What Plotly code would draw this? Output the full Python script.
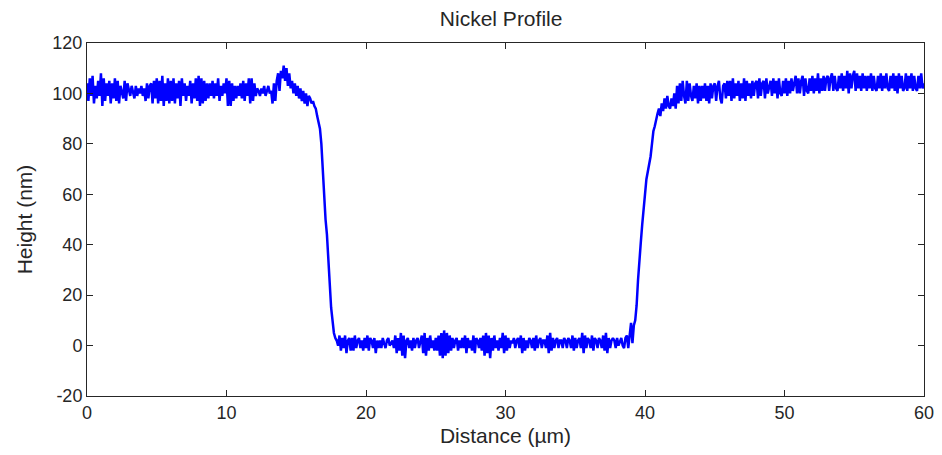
import plotly.graph_objects as go

x_start = 0.0
x_step = 0.1

heights = [
    # 0 - 15.9 left plateau with bump
    104, 97, 106, 99, 107, 96, 103, 98, 105, 99,
    108, 95, 106, 97, 104, 99, 105, 96, 104, 98,
    106, 97, 105, 96, 103, 100, 98, 105, 97, 104,
    102, 99, 103, 100, 98, 103, 99, 102, 100, 103,
    99, 102, 97, 104, 98, 103, 104, 96, 105, 98,
    106, 96, 105, 97, 107, 95, 104, 97, 106, 96,
    105, 97, 106, 96, 104, 98, 105, 95, 106, 99,
    104, 97, 103, 99, 105, 96, 104, 98, 106, 97,
    107, 95, 106, 96, 105, 97, 104, 98, 104, 99,
    105, 98, 104, 99, 106, 97, 103, 99, 104, 100,
    106, 95, 105, 95, 104, 97, 103, 98, 103, 99,
    104, 98, 105, 97, 104, 99, 106, 96, 106, 97,
    104, 99, 102, 101, 99, 102, 100, 103, 99, 101,
    103, 100, 101, 96, 104, 97, 105, 108, 101, 109,
    106, 111, 105, 110, 103, 108, 102, 105, 100, 104,
    99, 103, 98, 102, 97, 101, 96, 100, 95, 99,
    # 16 - 18.9 drop
    98, 96, 97, 95, 94, 91, 88, 86, 80, 70,
    56, 50, 44, 33, 24, 15, 10, 5, 3, 2,
    0, 4, -2, 3, -1, 4, -3, 2, 3, -2,
    # 19 - 38.9 bottom
    3, -2, 4, -1, 2, 3, -1, 2, -2, 3,
    -1, 4, -2, 3, 2, -1, 3, -3, 2, -1,
    2, -1, 3, 1, -1, 2, 3, 0, 1, 2,
    -1, 4, -3, 3, -2, 5, -4, 4, -5, 2,
    3, -1, 2, -2, 3, -1, 2, 3, -1, 2,
    4, -3, 5, -4, 3, -2, 4, -1, 2, -2,
    3, -2, 4, -4, 5, -5, 6, -4, 5, -3,
    4, -2, 3, -1, 2, 3, -2, 2, -1, 3,
    -1, 4, -3, 3, -1, 2, -2, 4, -3, 3,
    2, -1, 3, -2, 4, -4, 5, -3, 4, -5,
    3, -2, 4, -1, 2, -2, 3, -1, 5, -3,
    4, -2, 3, -1, 2, 1, 3, -1, 2, 3,
    -1, 4, -3, 3, -2, 2, -1, 3, 2, -1,
    3, -2, 4, -1, 2, 3, -1, 2, 2, -1,
    4, -3, 5, -2, 3, -1, 2, 3, -1, 2,
    2, -1, 3, 2, -1, 3, 2, -1, 4, -2,
    3, -1, 2, 3, -1, 5, -3, 4, -1, 3,
    2, -1, 4, -2, 3, 2, -1, 3, 2, -1,
    4, -2, 5, -3, 3, -1, 2, 3, 2, -1,
    3, 0, 2, 3, 0, -1, 3, 4, -1, 4,
    # 39 - 42.9 rise
    9, 1, 8, 10, 16, 26, 36, 41, 48, 56,
    60, 66, 69, 72, 75, 80, 85, 87, 90, 92,
    94, 91, 96, 93, 98, 94, 99, 95, 94, 98,
    95, 100, 94, 103, 96, 104, 97, 105, 99, 96,
    # 43 - 60 right plateau
    105, 97, 104, 99, 97, 103, 98, 104, 96, 103,
    97, 103, 98, 104, 97, 103, 96, 104, 98, 103,
    104, 97, 103, 105, 98, 96, 103, 104, 98, 105,
    99, 105, 97, 106, 98, 104, 99, 105, 97, 104,
    98, 106, 97, 105, 99, 104, 98, 105, 99, 104,
    105, 98, 106, 99, 104, 105, 98, 106, 100, 103,
    105, 99, 106, 100, 105, 98, 106, 100, 99, 105,
    100, 106, 99, 105, 100, 106, 101, 104, 107, 100,
    106, 100, 105, 107, 99, 106, 101, 100, 106, 101,
    107, 100, 106, 101, 108, 100, 106, 101, 107, 101,
    106, 107, 101, 106, 108, 101, 107, 102, 101, 107,
    102, 108, 101, 107, 102, 109, 100, 108, 102, 107,
    109, 101, 108, 102, 107, 101, 108, 102, 107, 101,
    107, 102, 108, 101, 107, 102, 101, 107, 102, 108,
    101, 107, 102, 108, 102, 101, 107, 102, 108, 101,
    107, 100, 108, 102, 107, 101, 102, 108, 101, 107,
    102, 108, 101, 107, 102, 101, 107, 102, 108, 102,
    104,
]

distance = [round(x_start + i * x_step, 2) for i in range(len(heights))]

x_ticks = [0, 10, 20, 30, 40, 50, 60]
y_ticks = [-20, 0, 20, 40, 60, 80, 100, 120]
y_tick_labels = ["-20", "0", "20", "40", "60", "80", "100", "120"]

fig = go.Figure()
fig.add_trace(go.Scatter(x=distance, y=heights, mode="lines",
                         line=dict(color="#0000FF", width=2.5), showlegend=False))

font = "Liberation Sans, Arial, sans-serif"
axis_common = dict(showgrid=False, zeroline=False, showline=True, linecolor="#262626",
                   linewidth=1, mirror="ticks", ticks="inside", ticklen=6,
                   tickcolor="#262626", automargin=False,
                   tickfont=dict(family=font, size=18, color="#262626"))

fig.update_layout(
    width=942, height=455,
    margin=dict(l=87, r=18, t=43, b=59),
    paper_bgcolor="white", plot_bgcolor="white",
    title=dict(text="Nickel Profile", x=0.532, xanchor="center", y=0.96, yanchor="middle",
               font=dict(family=font, size=21, color="#262626")),
    xaxis=dict(range=[0, 60], tickvals=x_ticks,
               title=dict(text="Distance (µm)", font=dict(family=font, size=21, color="#262626"), standoff=6),
               **axis_common),
    yaxis=dict(range=[-20, 120], tickvals=y_ticks, ticktext=y_tick_labels,
               title=dict(text="Height (nm)", font=dict(family=font, size=21, color="#262626"), standoff=14),
               **axis_common),
)

fig.write_html("out.html")
